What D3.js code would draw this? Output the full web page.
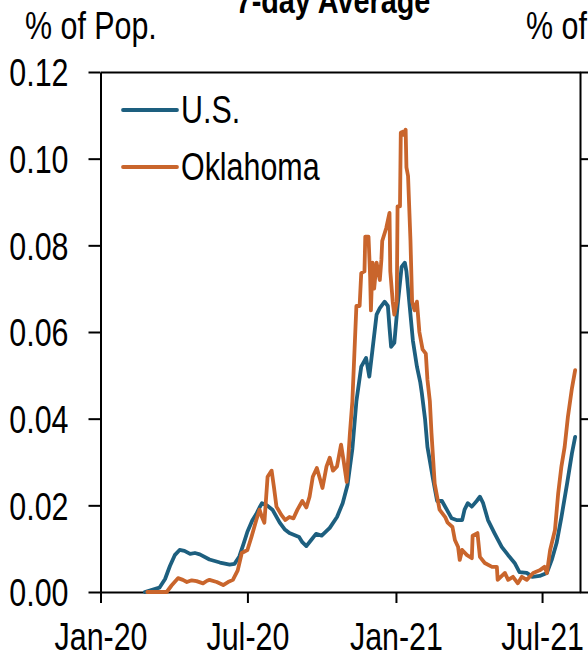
<!DOCTYPE html>
<html><head><meta charset="utf-8">
<script src="https://cdn.jsdelivr.net/npm/d3@7"></script>
<style>html,body{margin:0;padding:0;background:#fff;overflow:hidden}</style>
</head><body>
<svg id="c" width="588" height="653"></svg>
<script>
const titleText = "7-day Average";
const yAxisTitle = "% of Pop.";
const seriesNames = ["U.S.", "Oklahoma"];
const xTickDates = ["2020-01-01","2020-07-01","2021-01-01","2021-07-01"];
const xTickLabels = ["Jan-20","Jul-20","Jan-21","Jul-21"];
const yTicks = [0,0.02,0.04,0.06,0.08,0.10,0.12];

const usDates = ["2020-02-25","2020-03-14","2020-03-21","2020-03-27","2020-04-02","2020-04-08","2020-04-14","2020-04-21","2020-04-27","2020-05-03","2020-05-15","2020-05-28","2020-06-09","2020-06-15","2020-06-21","2020-06-26","2020-07-01","2020-07-07","2020-07-12","2020-07-16","2020-07-19","2020-07-25","2020-08-01","2020-08-10","2020-08-16","2020-08-22","2020-09-03","2020-09-07","2020-09-12","2020-09-18","2020-09-24","2020-10-01","2020-10-11","2020-10-20","2020-10-27","2020-11-02","2020-11-08","2020-11-13","2020-11-19","2020-11-25","2020-11-29","2020-12-03","2020-12-08","2020-12-12","2020-12-18","2020-12-22","2020-12-24","2020-12-26","2020-12-30","2021-01-03","2021-01-08","2021-01-12","2021-01-14","2021-01-18","2021-01-22","2021-01-27","2021-01-31","2021-02-02","2021-02-06","2021-02-09","2021-02-16","2021-02-21","2021-02-27","2021-03-05","2021-03-11","2021-03-17","2021-03-24","2021-03-27","2021-03-31","2021-04-05","2021-04-11","2021-04-15","2021-04-19","2021-04-25","2021-05-03","2021-05-12","2021-05-20","2021-05-28","2021-06-03","2021-06-12","2021-06-19","2021-06-28","2021-07-07","2021-07-13","2021-07-19","2021-07-25","2021-08-01","2021-08-07","2021-08-11"];
const usValues = [0,0.001,0.003,0.006,0.0085,0.0097,0.0095,0.0088,0.0090,0.0087,0.0075,0.0068,0.0063,0.0065,0.0082,0.011,0.0139,0.0165,0.018,0.0195,0.0205,0.0200,0.019,0.016,0.0145,0.0136,0.0127,0.0115,0.0106,0.012,0.0134,0.013,0.0148,0.0173,0.0205,0.0247,0.033,0.044,0.052,0.054,0.0497,0.056,0.064,0.0655,0.067,0.066,0.061,0.0566,0.0575,0.066,0.075,0.076,0.074,0.066,0.058,0.052,0.0485,0.046,0.040,0.0335,0.026,0.021,0.021,0.019,0.017,0.0166,0.0166,0.019,0.0205,0.0197,0.021,0.022,0.0205,0.0166,0.0136,0.0104,0.0085,0.0067,0.0046,0.0044,0.0035,0.0037,0.0044,0.0074,0.0113,0.0173,0.025,0.032,0.0358];

const okDates = ["2020-02-28","2020-03-23","2020-03-29","2020-04-06","2020-04-12","2020-04-17","2020-04-23","2020-04-29","2020-05-07","2020-05-12","2020-05-15","2020-05-24","2020-06-01","2020-06-07","2020-06-13","2020-06-19","2020-06-24","2020-07-01","2020-07-06","2020-07-12","2020-07-16","2020-07-19","2020-07-22","2020-07-26","2020-07-31","2020-08-03","2020-08-06","2020-08-12","2020-08-17","2020-08-22","2020-08-27","2020-09-01","2020-09-07","2020-09-12","2020-09-16","2020-09-20","2020-09-25","2020-09-29","2020-10-02","2020-10-07","2020-10-11","2020-10-15","2020-10-20","2020-10-25","2020-10-28","2020-11-01","2020-11-05","2020-11-08","2020-11-13","2020-11-17","2020-11-19","2020-11-23","2020-11-24","2020-11-28","2020-11-30","2020-12-01","2020-12-03","2020-12-05","2020-12-08","2020-12-12","2020-12-14","2020-12-15","2020-12-20","2020-12-24","2020-12-25","2020-12-28","2020-12-30","2021-01-02","2021-01-03","2021-01-06","2021-01-07","2021-01-09","2021-01-10","2021-01-13","2021-01-14","2021-01-16","2021-01-19","2021-01-21","2021-01-24","2021-01-27","2021-01-30","2021-02-03","2021-02-07","2021-02-09","2021-02-12","2021-02-14","2021-02-18","2021-02-22","2021-02-24","2021-03-03","2021-03-06","2021-03-12","2021-03-15","2021-03-19","2021-03-21","2021-03-24","2021-03-30","2021-04-05","2021-04-06","2021-04-12","2021-04-15","2021-04-21","2021-04-30","2021-05-06","2021-05-07","2021-05-16","2021-05-20","2021-05-26","2021-06-01","2021-06-06","2021-06-12","2021-06-20","2021-06-28","2021-07-04","2021-07-07","2021-07-11","2021-07-17","2021-07-21","2021-07-25","2021-07-29","2021-08-02","2021-08-07","2021-08-11"];
const okValues = [0,0,0.0015,0.0032,0.0028,0.0023,0.0027,0.0025,0.002,0.0026,0.0028,0.0023,0.0016,0.0023,0.0028,0.005,0.009,0.0097,0.0127,0.0166,0.019,0.0173,0.016,0.0266,0.028,0.024,0.0197,0.0178,0.0166,0.0173,0.017,0.019,0.021,0.0195,0.022,0.0266,0.0286,0.026,0.024,0.029,0.031,0.028,0.029,0.034,0.0305,0.0254,0.0367,0.044,0.066,0.066,0.0736,0.074,0.082,0.082,0.073,0.065,0.076,0.070,0.076,0.072,0.0767,0.081,0.084,0.0875,0.074,0.067,0.064,0.067,0.089,0.089,0.106,0.1062,0.1055,0.1067,0.098,0.096,0.081,0.067,0.065,0.067,0.060,0.056,0.055,0.049,0.044,0.0367,0.025,0.021,0.019,0.0173,0.016,0.015,0.012,0.0104,0.0074,0.0097,0.0085,0.0078,0.013,0.0136,0.0081,0.0067,0.0058,0.0058,0.0028,0.0044,0.0028,0.0035,0.002,0.0035,0.0028,0.0044,0.005,0.0058,0.0044,0.0097,0.0143,0.0228,0.029,0.0335,0.0404,0.047,0.0512];

const colors = ["#1d5f7f", "#c9652c"];

// font detection
function hasFont(name){
  const c=document.createElement("canvas").getContext("2d");
  const s="Oklahoma Jan-20 0.12";
  c.font="36px monospace"; const a=c.measureText(s).width;
  c.font=`36px "${name}", monospace`; const b=c.measureText(s).width;
  return Math.abs(a-b)>0.5;
}
let fam, k=1;
if (hasFont("Liberation Sans Narrow")) fam='"Liberation Sans Narrow"';
else if (hasFont("Arial Narrow")) fam='"Arial Narrow"';
else { fam='"Liberation Sans", Arial, sans-serif'; k=0.8; }
function narrow(sel){
  sel.each(function(){
    const t=d3.select(this);
    const x=+(t.attr("x")||0);
    t.attr("x", x/k).attr("transform", `scale(${k},1)`);
  });
}

const svg=d3.select("#c");
const fs=38;
const parse=d3.utcParse("%Y-%m-%d");
const x=d3.scaleUtc().domain([parse("2020-01-01"), parse("2021-08-17")]).range([100.5,580]);
const y=d3.scaleLinear().domain([0,0.12]).range([592,72]);

// axes
const gL=svg.append("g").attr("transform","translate(100.5,0)")
  .call(d3.axisLeft(y).tickValues(yTicks).tickFormat(d3.format(".2f")).tickSize(12).tickSizeOuter(0).tickPadding(20));
const gR=svg.append("g").attr("transform","translate(580,0)")
  .call(d3.axisRight(y).tickValues(yTicks).tickFormat("").tickSize(10).tickSizeOuter(0));
const gB=svg.append("g").attr("transform","translate(0,592)")
  .call(d3.axisBottom(x).tickValues(xTickDates.map(parse)).tickFormat((d,i)=>xTickLabels[i]).tickSize(11).tickSizeOuter(0).tickPadding(20));
const gT=svg.append("g").attr("transform","translate(0,72)")
  .call(d3.axisTop(x).tickValues([]).tickSizeOuter(0));
[gL,gR,gB,gT].forEach(g=>{
  g.selectAll("path,line").attr("stroke","#000").attr("stroke-width",2);
  g.selectAll("text").attr("font-family",fam).attr("font-size",fs).attr("fill","#000");
});
gB.selectAll("text").attr("dy","0.71em");
gL.selectAll("text").attr("dy","0.36em");
narrow(gL.selectAll("text")); narrow(gB.selectAll("text"));

// lines
const line=d3.line().x(d=>x(d[0])).y(d=>y(d[1]));
const series=[d3.zip(usDates.map(parse),usValues), d3.zip(okDates.map(parse),okValues)];
svg.append("g").selectAll("path").data(series).join("path")
  .attr("d",line).attr("fill","none").attr("stroke",(d,i)=>colors[i])
  .attr("stroke-width",3.8).attr("stroke-linejoin","round").attr("stroke-linecap","round");

// legend
const lg=svg.append("g");
seriesNames.forEach((n,i)=>{
  const ly=110+i*57;
  lg.append("line").attr("x1",123).attr("x2",177).attr("y1",ly).attr("y2",ly)
    .attr("stroke",colors[i]).attr("stroke-width",3.8).attr("stroke-linecap","round");
  lg.append("text").attr("x",181).attr("y",ly+13).text(n)
    .attr("font-family",fam).attr("font-size",fs).attr("fill","#000");
});
narrow(lg.selectAll("text"));

// titles
const tt=svg.append("g");
tt.append("text").attr("x",25).attr("y",39).text(yAxisTitle).attr("font-family",fam).attr("font-size",fs);
tt.append("text").attr("x",526).attr("y",39).text(yAxisTitle).attr("font-family",fam).attr("font-size",fs);
narrow(tt.selectAll("text"));
const t2=svg.append("text").attr("x",333).attr("y",13).attr("text-anchor","middle").text(titleText)
  .attr("font-family",fam).attr("font-size",36).attr("font-weight","bold");
narrow(t2);
</script>
</body></html>
